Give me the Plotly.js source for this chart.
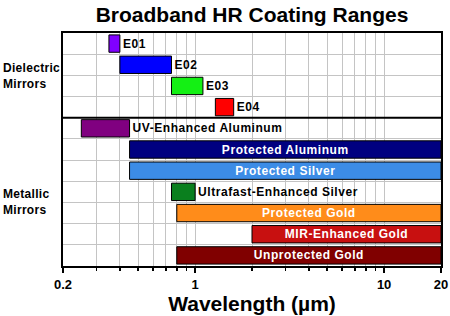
<!DOCTYPE html>
<html>
<head>
<meta charset="utf-8">
<script src="https://cdn.plot.ly/plotly-3.0.1.min.js"></script>
<style>
html,body{margin:0;padding:0;background:#fff;}
#chart{width:450px;height:316px;}
text.bartext{letter-spacing:0.55px;}
text.annotation-text{letter-spacing:0.3px;}
</style>
</head>
<body>
<div id="chart"></div>
<script>
// Data
const coatings = ["E01","E02","E03","E04","UV-Enhanced Aluminum","Protected Aluminum","Protected Silver","Ultrafast-Enhanced Silver","Protected Gold","MIR-Enhanced Gold","Unprotected Gold"];
const startUm = [0.35,0.40,0.75,1.28,0.25,0.45,0.45,0.75,0.80,2.0,0.80];
const endUm   = [0.40,0.75,1.10,1.60,0.45,20,20,1.0,20,20,20];
const labelInside = [false,false,false,false,false,true,true,false,true,true,true];
const barColors = ["#8000FF","#0000FF","#14F014","#FF0000","#800080","#000080","#3C8CE6","#0A7F1E","#FF8C1A","#C81010","#800000"];
const groupNames = ["Dielectric<br>Mirrors","Metallic<br>Mirrors"];
const groupRows = [1.55, 7.5];
const xTickVals = [0.2,1,10,20];
const xTickText = ["0.2","1","10","20"];
const xMinorVals = [0.3,0.4,0.5,0.6,0.7,0.8,0.9,2,3,4,5,6,7,8,9];

const rows = coatings.map((_,i)=>i);
const FONT = "Liberation Sans, Arial, sans-serif";

const trace = {
  type: "bar",
  orientation: "h",
  y: rows,
  base: startUm,
  x: endUm.map((e,i)=>e-startUm[i]),
  width: 0.82,
  marker: {color: barColors, line: {color: "#000", width: 1}},
  text: coatings,
  textposition: labelInside.map(v=>v?"inside":"outside"),
  insidetextanchor: "middle",
  constraintext: "none",
  textfont: {family: FONT, size: 12, weight: "bold"},
  insidetextfont: {family: FONT, size: 12, weight: "bold", color: "#fff"},
  outsidetextfont: {family: FONT, size: 12, weight: "bold", color: "#000"},
  cliponaxis: false,
  hoverinfo: "skip"
};

const boundaries = [];
for (let i=0;i<coatings.length-1;i++) boundaries.push(i+0.5);

const layout = {
  width: 450, height: 316,
  margin: {l:63, r:9, t:33, b:50, pad:0},
  paper_bgcolor: "#fff", plot_bgcolor: "#fff",
  showlegend: false,
  title: {text: "Broadband HR Coating Ranges", font: {family: FONT, size: 21, weight: "bold", color: "#000"},
          x: 0.56, xanchor: "center", y: 0.955, yanchor: "middle"},
  xaxis: {
    type: "log",
    range: [Math.log10(0.2), Math.log10(20)],
    tickmode: "array", tickvals: xTickVals, ticktext: xTickText,
    ticks: "outside", ticklen: 5, tickwidth: 2, tickcolor: "#000",
    tickfont: {family: FONT, size: 13, weight: "bold", color: "#000"},
    showgrid: true, gridcolor: "#c4c4c4", gridwidth: 1,
    minor: {tickmode: "array", tickvals: xMinorVals, ticks: "outside", ticklen: 3, tickwidth: 1.5, tickcolor: "#000",
            showgrid: true, gridcolor: "#c4c4c4", gridwidth: 1},
    showline: true, linecolor: "#000", linewidth: 2, mirror: true,
    zeroline: false,
    title: {text: "Wavelength (µm)", font: {family: FONT, size: 21, weight: "bold", color: "#000"}, standoff: 6},
    automargin: false, fixedrange: true
  },
  yaxis: {
    range: [coatings.length-0.5, -0.5],
    tickmode: "array", tickvals: boundaries, showticklabels: false, ticks: "",
    showgrid: true, gridcolor: "#c4c4c4", gridwidth: 1,
    showline: true, linecolor: "#000", linewidth: 2, mirror: true,
    zeroline: false, automargin: false, fixedrange: true
  },
  shapes: [{type: "line", xref: "paper", x0: 0, x1: 1, yref: "y", y0: 3.5, y1: 3.5, line: {color: "#000", width: 2}}],
  annotations: groupNames.map((g,i)=>({
    text: g, xref: "paper", x: -0.163, xanchor: "left", yref: "y", y: groupRows[i], yanchor: "middle",
    align: "left", showarrow: false, font: {family: FONT, size: 12, weight: "bold", color: "#000"}
  }))
};

Plotly.newPlot("chart", [trace], layout, {staticPlot: true, displayModeBar: false});
</script>
</body>
</html>
